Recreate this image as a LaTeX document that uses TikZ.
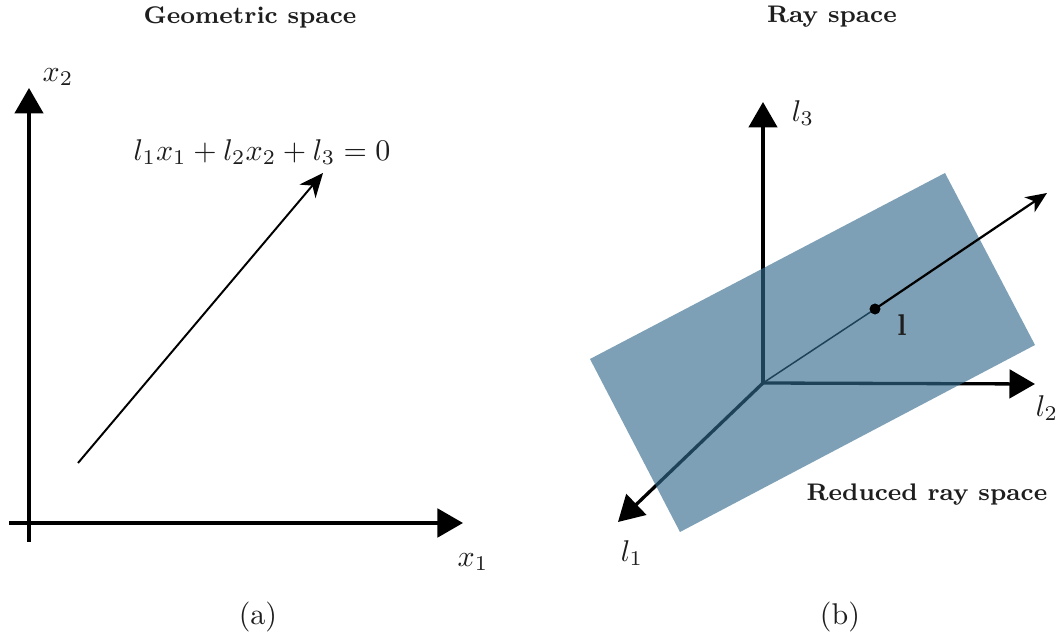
\documentclass[tikz,border=0pt]{standalone}
\usetikzlibrary{arrows.meta}
\definecolor{planeblue}{RGB}{49,105,140}
\definecolor{txtgray}{RGB}{30,30,30}
\begin{document}
\begin{tikzpicture}[x=0.3333pt,y=-0.3333pt,
  axis/.style={line width=1.1pt,-{Triangle[width=9.5pt,length=8.5pt]}},
  thinarrow/.style={line width=0.65pt,-{Stealth[length=8pt,width=7pt,inset=2.5pt]}},
  raythin/.style={line width=0.5pt},
  raythick/.style={line width=0.75pt,-{Stealth[length=7pt,width=6pt,inset=2pt]}},
  lbl/.style={inner sep=0pt,text=txtgray},
  ttl/.style={inner sep=0pt,font=\footnotesize\bfseries,text=txtgray},
  plane/.style={fill=planeblue,fill opacity=0.63,draw=none},
  dotstyle/.style={circle,fill=black,inner sep=0pt,minimum size=3.6pt}]
\useasboundingbox (0,0) rectangle (1060,634);

% ---------- left panel: geometric space ----------
\coordinate (x2base) at (29,542);
\coordinate (x2tip) at (29,88);
\coordinate (x1base) at (9,523);
\coordinate (x1tip) at (463,523);
\coordinate (dstart) at (78,463);
\coordinate (dtip) at (323,173);

\draw[axis] (x2base) -- (x2tip);
\draw[axis] (x1base) -- (x1tip);
\draw[thinarrow] (dstart) -- (dtip);

\node[ttl] (geotitle) at (250,17) {Geometric space};
\node[lbl] (x2lab) at (58,77) {$x_2$};
\node[lbl] (x1lab) at (473,562) {$x_1$};
\node[lbl] (eqlab) at (262,152) {$l_1x_1+l_2x_2+l_3=0$};
\node[lbl] (capa) at (258,617) {(a)};

% ---------- right panel: ray space ----------
\coordinate (O) at (763,383);
\coordinate (l3tip) at (763,102);
\coordinate (l2tip) at (1035,384);
\coordinate (l1tip) at (618,522);
\coordinate (raytip) at (1047,193);
\coordinate (pA) at (945,173);
\coordinate (pB) at (1035,345);
\coordinate (pC) at (680,532);
\coordinate (pD) at (590,359);

\draw[axis] (O) -- (l3tip);
\draw[axis] (O) -- (l2tip);
\draw[axis] (O) -- (l1tip);

\node[dotstyle] (ldot) at (875,309) {};
\draw[raythin] (O) -- (ldot.center);

\path[plane] (pA) -- (pB) -- (pC) -- (pD) -- cycle;

\draw[raythick] (ldot.center) -- (raytip);
\node[dotstyle] (ldot2) at (875,309) {};

\node[ttl] (raytitle) at (832,17) {Ray space};
\node[lbl] (l3lab) at (803,113) {$l_3$};
\node[lbl] (l2lab) at (1047,408) {$l_2$};
\node[lbl] (l1lab) at (632,553) {$l_1$};
\node[lbl] (llab) at (902,325) {$\mathbf{l}$};
\node[ttl] (redlab) at (927,495) {Reduced ray space};
\node[lbl] (capb) at (840,617) {(b)};
\end{tikzpicture}
\end{document}
